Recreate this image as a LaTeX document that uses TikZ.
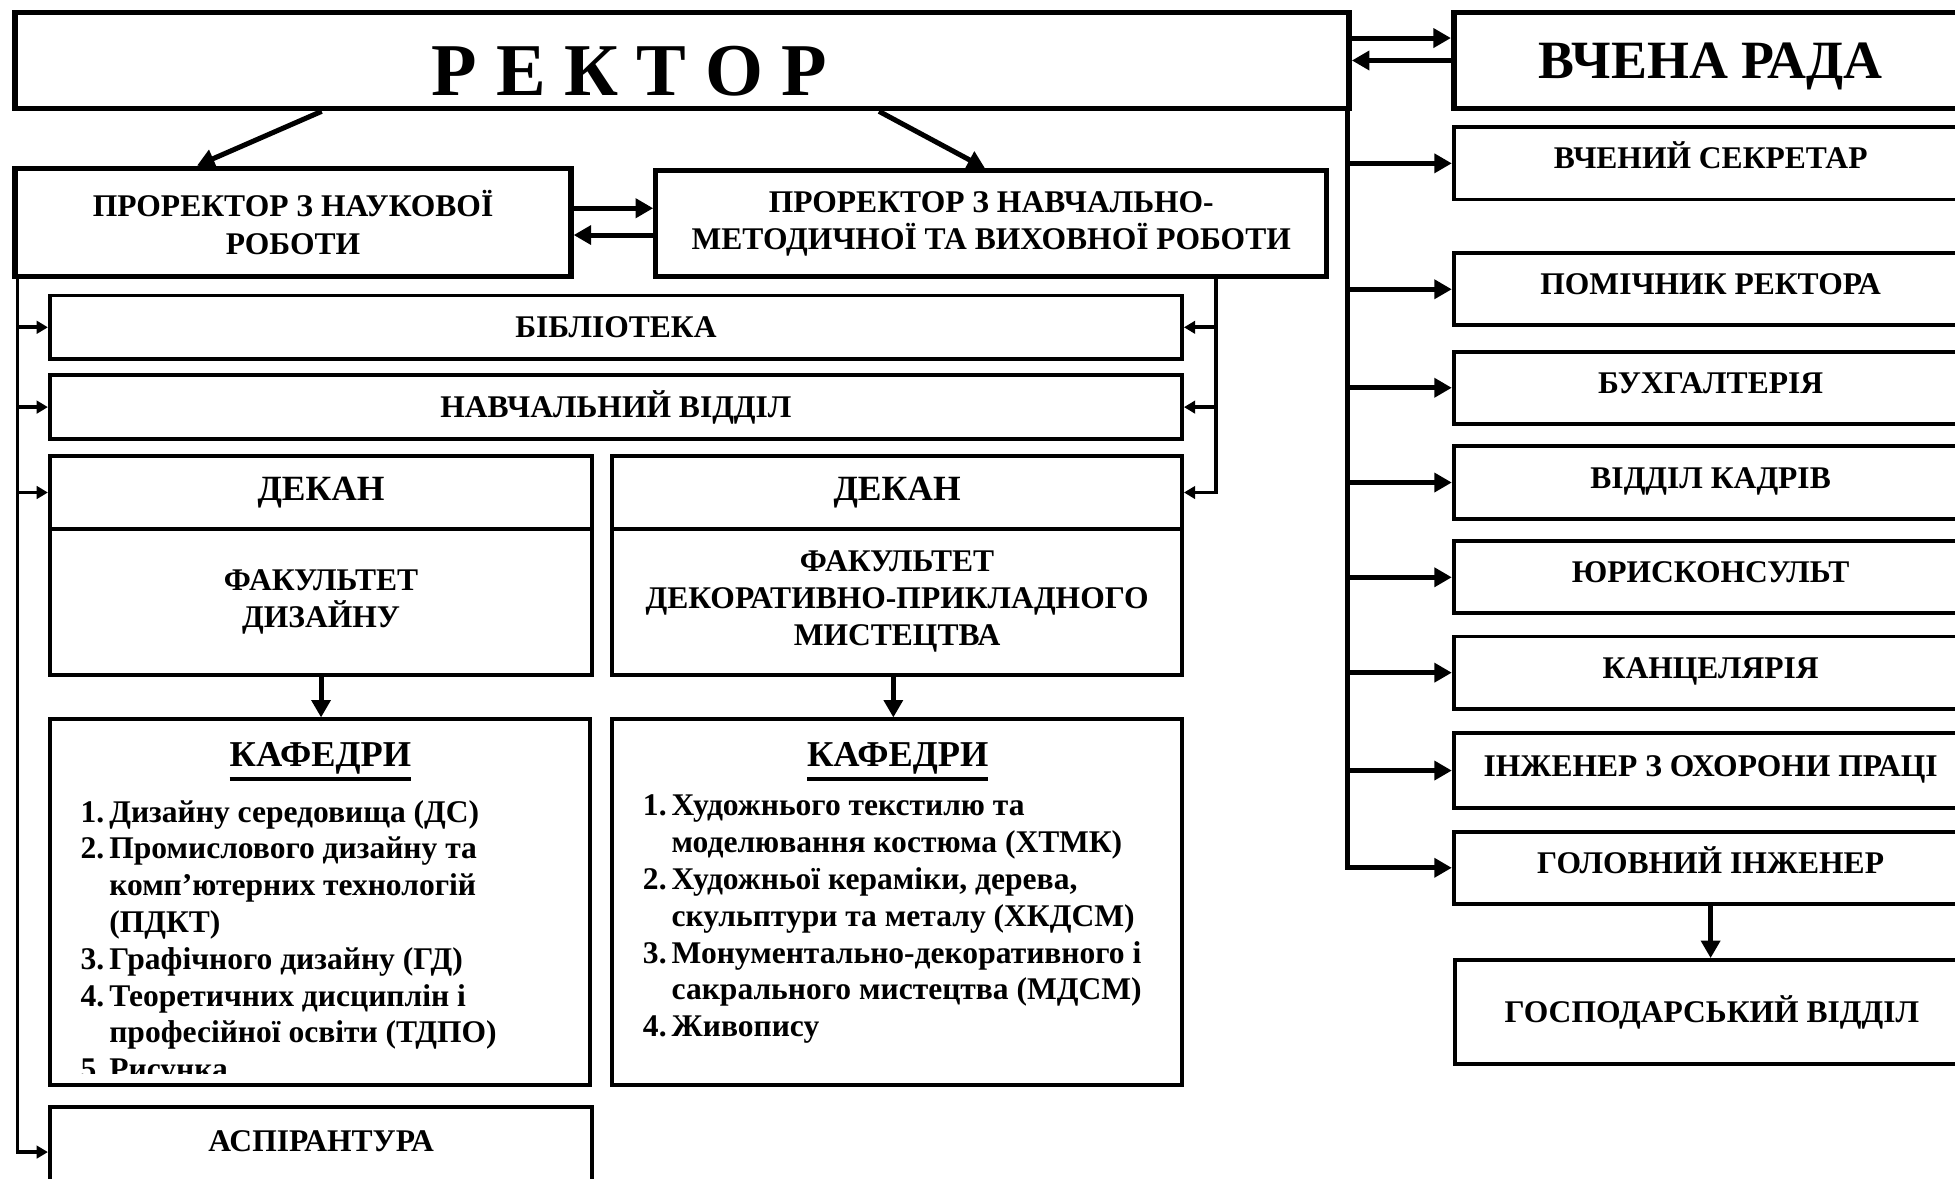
\documentclass[tikz,border=0pt]{standalone}
\usepackage{fontspec}
\setmainfont{Liberation Serif}
\usetikzlibrary{arrows.meta,calc}
\tikzset{
  orgbox/.style={draw, line width=0.9pt, inner sep=0pt, align=center, font=\fontsize{7.2}{8.5}\selectfont\bfseries},
  thickbox/.style={orgbox, line width=1.3pt},
  sidebox/.style={orgbox, minimum width=41.2mm, minimum height=5.8mm, text height=1.7mm, text depth=0.8mm},
  deanbox/.style={orgbox, minimum height=5.8mm, font=\fontsize{8.1}{9.5}\selectfont\bfseries},
  kaftitle/.style={anchor=base, inner sep=0pt, font=\fontsize{8.3}{10}\selectfont\bfseries},
  kaflist/.style={anchor=north west, inner sep=0pt, font=\fontsize{7.2}{8.4}\selectfont\bfseries},
  arc/.style={-{Triangle[length=1.4mm, width=1.5mm]}, line width=1.15pt},
  busarc/.style={-{Triangle[length=0.9mm, width=1mm]}, line width=0.85pt}
}
\newcommand{\kafhead}[1]{\vtop{\hbox{#1}\kern0.6pt\hrule height 0.9pt}}

\begin{document}
\begin{tikzpicture}[x=0.1mm, y=-0.1mm]
  \useasboundingbox (0,0) rectangle (1568,945);
  \clip (0,0) rectangle (1568,945);

  \node[thickbox, minimum width=107mm, minimum height=7.7mm] (rektor) at (547,48.5) {};
  \node[font=\fontsize{17}{20}\selectfont\bfseries] (rektortext) at (505,57) {Р Е К Т О Р};
  \node[thickbox, minimum width=41.2mm, minimum height=7.7mm, text height=2.9mm, text depth=0pt, font=\fontsize{12.3}{14}\selectfont\bfseries] (rada) at (1372,48.5) {ВЧЕНА РАДА};
  \draw[arc] ([yshift=1.8mm]rektor.east) -- ([yshift=1.8mm]rada.west);
  \draw[arc] (rada.west) -- (rektor.east);

  \node[thickbox, line width=1.2pt, minimum width=44.6mm, minimum height=8.7mm] (prns) at (235,178.5) {ПРОРЕКТОР З НАУКОВОЇ\\РОБОТИ};
  \node[thickbox, line width=1.2pt, minimum width=53.8mm, minimum height=8.5mm] (prnm) at (795,179.5) {ПРОРЕКТОР З НАВЧАЛЬНО-\\МЕТОДИЧНОЇ ТА ВИХОВНОЇ РОБОТИ};
  \draw[arc] ([xshift=-28.9mm]rektor.south) -- ([xshift=-7.7mm]prns.north);
  \draw[arc] ([xshift=15.8mm]rektor.south) -- ([xshift=-0.5mm]prnm.north);
  \draw[arc] ([yshift=1.15mm]prns.east) -- ([yshift=1.15mm]prns.east -| prnm.west);
  \draw[arc] ([yshift=-1mm]prns.east -| prnm.west) -- ([yshift=-1mm]prns.east);

  \node[orgbox, minimum width=90.8mm, minimum height=5.1mm] (bibl) at (494,262.5) {БІБЛІОТЕКА};
  \node[orgbox, minimum width=90.8mm, minimum height=5.1mm] (navch) at (494,326.5) {НАВЧАЛЬНИЙ ВІДДІЛ};

  \node[deanbox, minimum width=43.5mm] (dekl) at (257.5,395) {ДЕКАН};
  \node[orgbox, minimum width=43.5mm, minimum height=11.7mm] (facl) at (257.5,482.5) {ФАКУЛЬТЕТ\\ДИЗАЙНУ};
  \node[deanbox, minimum width=45.7mm] (dekr) at (719.5,395) {ДЕКАН};
  \node[orgbox, minimum width=45.7mm, minimum height=11.7mm] (facr) at (719.5,482.5) {ФАКУЛЬТЕТ\\ДЕКОРАТИВНО-ПРИКЛАДНОГО\\МИСТЕЦТВА};

  \node[orgbox, minimum width=43.3mm, minimum height=29.3mm] (kafl) at (256.5,723.5) {};
  \node[orgbox, minimum width=45.7mm, minimum height=29.3mm] (kafr) at (719.5,723.5) {};
  \draw[arc] (facl.south) -- (facl.south |- kafl.north);
  \draw[arc] ([xshift=-0.3mm]facr.south) -- ([xshift=-0.3mm]facr.south |- kafr.north);
  \node[kaftitle] (kafltitle) at (257,615) {\kafhead{КАФЕДРИ}};
  \node[kaftitle] (kafrtitle) at (720,615) {\kafhead{КАФЕДРИ}};
  \begin{scope}
    \clip (42,579) rectangle (471,861);
    \node[kaflist] (kafllist) at (64,638) {\begin{tabular}{@{}l@{\hspace{0.4mm}}l@{}}
      1. & Дизайну середовища (ДС)\\
      2. & Промислового дизайну та\\
         & комп’ютерних технологій\\
         & (ПДКТ)\\
      3. & Графічного дизайну (ГД)\\
      4. & Теоретичних дисциплін і\\
         & професійної освіти (ТДПО)\\
      5. & Рисунка
    \end{tabular}};
  \end{scope}
  \node[kaflist] (kafrlist) at (515,633) {\begin{tabular}{@{}l@{\hspace{0.4mm}}l@{}}
    1. & Художнього текстилю та\\
       & моделювання костюма (ХТМК)\\
    2. & Художньої кераміки, дерева,\\
       & скульптури та металу (ХКДСМ)\\
    3. & Монументально-декоративного і\\
       & сакрального мистецтва (МДСМ)\\
    4. & Живопису
  \end{tabular}};

  \node[orgbox, minimum width=43.5mm, minimum height=7.2mm, text height=1.7mm, text depth=1.8mm] (aspir) at (257.5,924) {АСПІРАНТУРА};

  \coordinate (lbus) at (14,222);
  \draw[busarc] (lbus) |- (aspir.west);
  \foreach \n in {bibl,navch,dekl}
    \draw[busarc] (lbus |- \n.west) -- (\n.west);

  \coordinate (rbus) at (975,222);
  \draw[busarc] (rbus) |- (dekr.east);
  \foreach \n in {bibl,navch}
    \draw[busarc] (rbus |- \n.east) -- (\n.east);

  \node[sidebox] (sekr) at (1372,131) {ВЧЕНИЙ СЕКРЕТАР};
  \node[sidebox] (pomich) at (1372,232) {ПОМІЧНИК РЕКТОРА};
  \node[sidebox] (buh) at (1372,311) {БУХГАЛТЕРІЯ};
  \node[sidebox] (kadry) at (1372,387) {ВІДДІЛ КАДРІВ};
  \node[sidebox] (yur) at (1372,463) {ЮРИСКОНСУЛЬТ};
  \node[sidebox] (kanc) at (1372,539.5) {КАНЦЕЛЯРІЯ};
  \node[sidebox, minimum height=6mm] (ohor) at (1372,618) {ІНЖЕНЕР З ОХОРОНИ ПРАЦІ};
  \node[sidebox] (golov) at (1372,696) {ГОЛОВНИЙ ІНЖЕНЕР};
  \node[sidebox, minimum height=8.3mm, text depth=0pt] (gosp) at (1373,811.5) {ГОСПОДАРСЬКИЙ ВІДДІЛ};

  \coordinate (sbus) at (1081,87);
  \draw[arc] (sbus) |- (golov.west);
  \foreach \n in {sekr,pomich,buh,kadry,yur,kanc,ohor}
    \draw[arc] (sbus |- \n.west) -- (\n.west);
  \draw[arc] (golov.south) -- (golov.south |- gosp.north);
\end{tikzpicture}
\end{document}
